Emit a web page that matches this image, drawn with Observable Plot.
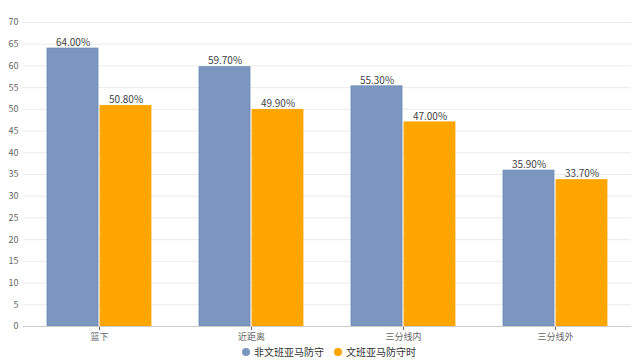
<!DOCTYPE html>
<html>
<head>
<meta charset="utf-8">
<script src="https://cdn.jsdelivr.net/npm/d3@7"></script>
<script src="https://cdn.jsdelivr.net/npm/@observablehq/plot@0.6"></script>
<style>
  body { margin: 0; background: #fff; font-family: "Noto Sans CJK SC", "Noto Sans", sans-serif; }
  #legend { display: flex; justify-content: center; gap: 10px; font-size: 10px; color: #333; height: 15px; align-items: center; margin-left: 18px; }
  #legend span.item { display: inline-flex; align-items: center; gap: 4px; }
  #legend span.dot { width: 8px; height: 8px; border-radius: 50%; display: inline-block; }
</style>
</head>
<body>
<div id="chart"></div>
<div id="legend"></div>
<script>
const categories = ["篮下", "近距离", "三分线内", "三分线外"];
const seriesNames = ["非文班亚马防守", "文班亚马防守时"];
const seriesA = [64.00, 59.70, 55.30, 35.90];
const seriesB = [50.80, 49.90, 47.00, 33.70];
const colors = ["#7b97c0", "#ffa500"];
const yTicks = [0, 5, 10, 15, 20, 25, 30, 35, 40, 45, 50, 55, 60, 65, 70];

const data = [];
categories.forEach((c, i) => {
  data.push({cat: c, series: seriesNames[0], value: seriesA[i]});
  data.push({cat: c, series: seriesNames[1], value: seriesB[i]});
});

const chart = Plot.plot({
  width: 640,
  height: 344,
  marginLeft: 22,
  marginRight: 8,
  marginTop: 22,
  marginBottom: 18,
  style: {fontFamily: '"Noto Sans CJK SC", "Noto Sans", sans-serif', fontSize: "9px", color: "#666", background: "#fff", overflow: "visible"},
  fx: {domain: categories, padding: 0, label: null, tickSize: 4, tickPadding: 3},
  x: {domain: seriesNames, paddingInner: 0.037, paddingOuter: 0.43, axis: null},
  y: {domain: [0, 70], ticks: yTicks, label: null, tickSize: 0, tickPadding: 5, grid: false},
  color: {domain: seriesNames, range: colors},
  marks: [
    Plot.ruleY(yTicks.filter(d => d > 0), {stroke: "#ebebeb", strokeWidth: 1}),
    Plot.barY(data, {fx: "cat", x: "series", y: "value", fill: "series", stroke: d => d.series === seriesNames[0] ? "#6c88b3" : "#ffa500", strokeWidth: 0.8}),
    Plot.text(data, {fx: "cat", x: "series", y: "value", text: d => d.value.toFixed(2) + "%", dy: -6, fill: "#444", fontSize: 10}),
    Plot.ruleY([0], {stroke: "#cccccc", strokeWidth: 1})
  ]
});
document.getElementById("chart").appendChild(chart);

const legend = document.getElementById("legend");
seriesNames.forEach((s, i) => {
  const item = document.createElement("span");
  item.className = "item";
  const dot = document.createElement("span");
  dot.className = "dot";
  dot.style.background = colors[i];
  item.appendChild(dot);
  item.appendChild(document.createTextNode(s));
  legend.appendChild(item);
});
</script>
</body>
</html>
